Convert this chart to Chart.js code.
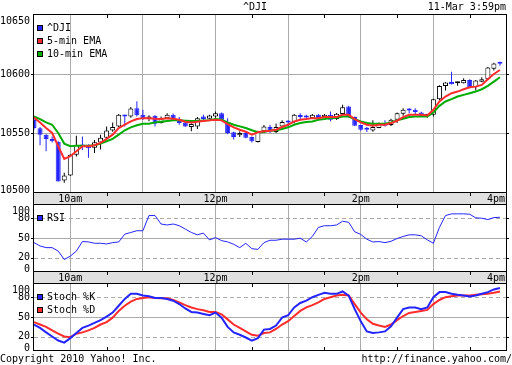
<!DOCTYPE html>
<html>
<head>
<meta charset="utf-8">
<script src="https://cdn.jsdelivr.net/npm/chart.js@4/dist/chart.umd.min.js"></script>
<style>
  html, body { margin: 0; padding: 0; background: #fff; }
  #wrap { position: relative; width: 512px; height: 365px; overflow: hidden; }
  #wrap canvas { position: absolute; left: 0; top: 0; }
  .txt { position: absolute; font: 10px "DejaVu Sans Mono", monospace; line-height: 10px; color: #000; white-space: pre; }
</style>
</head>
<body>
<div id="wrap">
  <canvas id="priceChart" width="512" height="365"></canvas>
  <canvas id="rsiChart" width="512" height="365"></canvas>
  <canvas id="stochChart" width="512" height="365"></canvas>
  <div class="txt" style="left:243px; top:2px;">^DJI</div>
  <div class="txt" style="right:6px; top:2px;">11-Mar 3:59pm</div>
  <div class="txt" style="left:0; top:354px;">Copyright 2010 Yahoo! Inc.</div>
  <div class="txt" style="right:0; top:354px;">http://finance.yahoo.com/</div>
</div>
<script>
// ^DJI intraday, 5-min candles, 11-Mar-2010

const times = [
    '9:30', '9:35', '9:40', '9:45', '9:50', '9:55',
    '10:00', '10:05', '10:10', '10:15', '10:20', '10:25', '10:30', '10:35', '10:40', '10:45', '10:50', '10:55',
    '11:00', '11:05', '11:10', '11:15', '11:20', '11:25', '11:30', '11:35', '11:40', '11:45', '11:50', '11:55',
    '12:00', '12:05', '12:10', '12:15', '12:20', '12:25', '12:30', '12:35', '12:40', '12:45', '12:50', '12:55',
    '13:00', '13:05', '13:10', '13:15', '13:20', '13:25', '13:30', '13:35', '13:40', '13:45', '13:50', '13:55',
    '14:00', '14:05', '14:10', '14:15', '14:20', '14:25', '14:30', '14:35', '14:40', '14:45', '14:50', '14:55',
    '15:00', '15:05', '15:10', '15:15', '15:20', '15:25', '15:30', '15:35', '15:40', '15:45', '15:50', '15:55',
    '16:00'
];

const open = [
    10561, 10554, 10548.6, 10545, 10542.5, 10509.8, 10514, 10531.5, 10540, 10540,
    10537.4, 10542, 10546, 10552.2, 10555.6, 10565.4, 10564, 10571, 10565.4, 10562,
    10564.6, 10558.4, 10562.4, 10565.4, 10561.8, 10559, 10555, 10555.6, 10564, 10562,
    10564, 10566.8, 10559, 10550.6, 10548, 10550, 10546.6,
    10542.4, 10551.4, 10555, 10550.8, 10555.6, 10559.6, 10559.3, 10565, 10564, 10562.4,
    10565.4, 10563.5, 10565.4, 10561.8, 10566, 10572.5, 10563.5, 10556.7, 10554.2, 10552.2,
    10554.2, 10558.4, 10556.7, 10561.2, 10566.3, 10570.5, 10569.7, 10567.4, 10564.6, 10565.4,
    10578.6, 10589.9, 10593.3, 10592.1, 10592.1, 10594.9, 10588.8, 10593.5, 10595.5, 10604.5,
    10609.3
];
const high = [
    10562, 10555, 10549, 10547, 10543, 10516.3, 10532, 10547.7, 10547, 10540.5,
    10544, 10548.6, 10555.6, 10559, 10566, 10565.5, 10572, 10577, 10569.7, 10565,
    10565, 10564, 10566.8, 10566.5, 10563.5, 10560, 10558, 10563.5, 10565.4, 10565.4,
    10568.2, 10567.4, 10562.6, 10551, 10551.4, 10551, 10547,
    10552, 10556.7, 10557, 10558, 10560.7, 10560.7, 10566, 10566.8, 10565.4, 10566,
    10566, 10566, 10568.2, 10567, 10573.9, 10573, 10564, 10557, 10555, 10560.7,
    10559, 10560.7, 10562, 10567.4, 10571, 10571, 10571, 10568, 10566, 10579,
    10590.5, 10593, 10602, 10593.5, 10596.3, 10595.5, 10595, 10597.2, 10606, 10609.5,
    10610.4
];
const low = [
    10553, 10539.6, 10534.5, 10542, 10509, 10507.9, 10513.5, 10530, 10535.6, 10529,
    10533, 10536, 10545, 10551, 10555, 10555.6, 10563, 10564, 10561, 10560,
    10555.6, 10558, 10562, 10561, 10557, 10555, 10551.4, 10553.4, 10561, 10562,
    10563, 10561, 10549, 10544.4, 10546.6, 10545.5, 10542,
    10542, 10550, 10550, 10550, 10554, 10555.6, 10558, 10560.7, 10561.2, 10562,
    10562, 10563, 10560, 10561, 10565, 10563, 10556, 10552, 10550.8, 10551,
    10554, 10555.6, 10556, 10558.4, 10564.6, 10566.8, 10565.4, 10563.5, 10563, 10564,
    10578, 10586, 10591, 10590, 10592, 10588, 10586, 10593, 10595, 10603,
    10607
];
const close = [
    10554.2, 10548.6, 10545, 10543, 10509, 10514, 10531.5, 10539.9, 10538.5, 10537,
    10542.1, 10546, 10552.2, 10555, 10565.4, 10564, 10570.8, 10565, 10562.4, 10564,
    10557.9, 10562.6, 10565.4, 10561.2, 10558.4, 10555.6, 10557.6, 10562.6, 10561.8, 10564.9,
    10566.8, 10561.2, 10550, 10546.6, 10550, 10546, 10543,
    10551.4, 10555.6, 10551.4, 10555, 10559.3, 10559, 10565.4, 10563.5, 10563.2, 10565.4,
    10562.4, 10565.4, 10561.2, 10566.3, 10571.9, 10563.5, 10556.2, 10552.8, 10552.8, 10555,
    10558.4, 10556.2, 10561.2, 10566.8, 10569.7, 10569, 10567.7, 10564, 10564.9, 10578.6,
    10589.9, 10592.7, 10591.3, 10592.4, 10594.9, 10588.8, 10594.4, 10595.5, 10605.6, 10609,
    10608.7
];

const ema5 = [
    10563.2, 10558.9, 10554.2, 10550.0, 10538.8, 10528.1, 10530.3, 10534.6, 10538.8, 10538.8,
    10539.6, 10541.6, 10545.0, 10548.6, 10554.2, 10557.0, 10559.8, 10561.8, 10562.6, 10562.6,
    10562.1, 10561.8, 10562.4, 10562.1, 10561.2, 10559.6, 10559.0, 10559.6, 10560.1, 10560.7,
    10561.2, 10560.7, 10557.6, 10554.8, 10552.8, 10551.1, 10548.6,
    10550.6, 10551.4, 10552.0, 10552.8, 10555.1, 10557.0, 10559.8, 10561.2, 10561.8, 10562.6,
    10562.6, 10563.5, 10563.5, 10563.5, 10565.4, 10565.4, 10561.8, 10559.0, 10557.0, 10556.2,
    10557.0, 10557.0, 10558.4, 10560.4, 10563.5, 10565.4, 10565.4, 10565.4, 10564.9, 10569.7,
    10576.7, 10580.9, 10583.7, 10585.1, 10587.1, 10588.8, 10589.3, 10590.7, 10595.5, 10600.0,
    10603.4
];
const ema10 = [
    10564.0, 10561.8, 10559.0, 10557.0, 10550.0, 10541.0, 10538.8, 10539.3, 10539.3, 10539.3,
    10539.6, 10541.0, 10543.0, 10545.0, 10548.6, 10552.3, 10554.8, 10556.5, 10557.9, 10557.9,
    10559.0, 10559.6, 10560.1, 10560.7, 10560.7, 10560.4, 10560.1, 10560.1, 10560.7, 10560.9,
    10561.8, 10561.2, 10559.0, 10557.0, 10555.6, 10554.2, 10552.3,
    10550.6, 10550.8, 10552.0, 10552.3, 10553.4, 10554.8, 10557.0, 10558.4, 10559.3, 10559.8,
    10561.2, 10561.8, 10562.6, 10562.9, 10564.0, 10564.0, 10561.8, 10559.8, 10558.4, 10557.9,
    10557.9, 10557.9, 10559.0, 10560.7, 10562.1, 10563.5, 10564.0, 10564.0, 10564.0, 10567.4,
    10573.0, 10576.7, 10578.7, 10580.9, 10582.3, 10583.7, 10585.1, 10587.1, 10589.9, 10593.5,
    10597.2
];

const rsi = [
    43, 37.9, 35.4, 35.4, 30.2, 17.4, 22.5, 30.2, 44.6, 44.1,
    42, 42, 41, 43, 44, 55.8, 58.4, 61, 61, 84,
    84, 71.2, 69.7, 71.2, 68.7, 63.5, 58.4, 54.8, 57.4, 47.1,
    50.7, 46, 44.1, 40.5, 35.4, 42, 33.8,
    32.8, 43, 46.6, 46.6, 48.2, 48.2, 48.2, 49.7, 44, 52.3,
    66.1, 68.6, 68.6, 69.7, 75.4, 73.8, 59.4, 55.4, 48.2, 44,
    44.6, 43, 45, 49.2, 52.3, 54.8, 54.8, 53.3, 47.1, 42,
    66.1, 84, 86.6, 86.6, 86.6, 86, 80.5, 80, 77.9, 80.9,
    81.4
];
const stochK = [
    38.6, 33.5, 26.7, 20.5, 14.3, 11.2, 18, 25.7, 33.5, 37,
    41.2, 45.3, 50.5, 56.7, 67, 77.4, 85.1, 85.1, 82.5, 81.5,
    78.9, 78.9, 77.4, 74.7, 69.6, 62.9, 57.7, 56.7, 54.6, 52.6,
    56.7, 49, 35, 26.7, 23.1, 18.9, 14.3,
    18, 30.9, 31.9, 37, 49, 52.6, 64.5, 71.2, 74.7, 80,
    83.6, 86.7, 85.1, 85.1, 88.7, 82.5, 61.9, 43.7, 28.2, 25.7,
    26.7, 28.2, 36, 49, 61.9, 64.5, 64.5, 61.9, 64.5, 80,
    87.7, 87.7, 85.1, 83.6, 82.5, 80.9, 82.5, 85.1, 87.7, 91.8,
    93.9
];
const stochD = [
    42.2, 38.6, 35, 29.8, 24.7, 20.5, 19.5, 24.7, 26.7, 29.8,
    33.5, 38.6, 42.2, 49, 59.2, 67, 73.2, 77.4, 78.9, 80,
    78.9, 78.4, 78.4, 75.8, 72.2, 68, 64.5, 61.9, 60.3, 57.7,
    57.7, 54.1, 46.4, 38.6, 33.5, 28.2, 23.1,
    21.5, 25.7, 26.7, 31.9, 38.6, 43.7, 51.5, 59.2, 64.5, 68,
    72.2, 77.4, 80, 82.5, 83.6, 82.5, 69.6, 56.7, 46.4, 39.7,
    37, 35, 38.6, 45.3, 51.5, 56.1, 57.7, 59.2, 60.8, 69.6,
    75.8, 80, 81.5, 82.5, 82.5, 82.5, 83.6, 84.6, 85.1, 86.7,
    88.7
];

// axis labels
const priceTicks = [10500, 10550, 10600, 10650];
const oscTicks = [0, 20, 50, 80, 100];
const bandTimes = ['10:00', '12:00', '14:00', '16:00'];
const bandText = ['10am', '12pm', '2pm', '4pm'];

const BLUE = 'rgb(36,36,255)';
const RED = 'rgb(255,44,44)';
const GREEN = 'rgb(0,172,0)';
const GRID = 'rgb(170,170,170)';
const BAND = 'rgb(224,224,224)';
const FONT = '10px "DejaVu Sans Mono", monospace';

const isDown = close.map((c, i) => c < open[i]);

// borders, labels, dashed levels, time band and legend for each panel
const panelPlugin = {
    id: 'panel',
    beforeDatasetsDraw(chart, args, opts) {
        const { ctx, chartArea: a } = chart;
        const y = chart.scales.y;
        ctx.save();
        ctx.strokeStyle = GRID;
        ctx.lineWidth = 1;
        ctx.setLineDash([4, 3]);
        (opts.dashed || []).forEach(v => {
            const py = Math.round(y.getPixelForValue(v)) + 0.5;
            ctx.beginPath();
            ctx.moveTo(a.left, py);
            ctx.lineTo(a.right, py);
            ctx.stroke();
        });
        ctx.restore();
    },
    afterDraw(chart, args, opts) {
        const { ctx, chartArea: a } = chart;
        const x = chart.scales.x, y = chart.scales.y;
        const w = a.right - a.left;
        ctx.save();
        ctx.font = FONT;
        ctx.lineWidth = 1;
        ctx.strokeStyle = '#000';
        ctx.fillStyle = '#000';

        // time band under the panel
        if (opts.band) {
            ctx.fillStyle = BAND;
            ctx.fillRect(a.left, a.bottom, w, 12);
            ctx.strokeRect(a.left - 0.5, a.bottom + 0.5, w + 1, 12);
            ctx.fillStyle = '#000';
            ctx.textBaseline = 'middle';
            ctx.textAlign = 'center';
            bandTimes.forEach((t, k) => {
                const tw = ctx.measureText(bandText[k]).width;
                let px = x.getPixelForValue(times.indexOf(t));
                px = Math.min(px, a.right - 1 - tw / 2);
                ctx.fillText(bandText[k], px, a.bottom + 7);
            });
        }

        ctx.strokeRect(a.left - 0.5, a.top - 0.5, w + 1, a.bottom - a.top + 1);

        // half-hour ticks
        times.forEach((t, i) => {
            if (!t.endsWith(':30') || i === 0) return;
            const px = Math.round(x.getPixelForValue(i)) + 0.5;
            ctx.beginPath();
            ctx.moveTo(px, a.top);
            ctx.lineTo(px, a.top + 3);
            if (opts.band) {
                ctx.moveTo(px, a.bottom);
                ctx.lineTo(px, a.bottom + 4);
            } else {
                ctx.moveTo(px, a.bottom);
                ctx.lineTo(px, a.bottom - 3);
            }
            ctx.stroke();
        });

        // y labels
        ctx.textAlign = 'right';
        ctx.textBaseline = 'middle';
        opts.yTicks.forEach(v => {
            const py = y.getPixelForValue(v);
            const ly = Math.min(Math.max(py, a.top + 6), a.bottom - 2);
            ctx.fillText(String(v), a.left - 4, ly);
            if (py > a.top + 1 && py < a.bottom - 1) {
                const ry = Math.round(py) + 0.5;
                ctx.beginPath();
                ctx.moveTo(a.left - 3, ry);
                ctx.lineTo(a.left, ry);
                ctx.moveTo(a.right, ry);
                ctx.lineTo(a.right + 3, ry);
                ctx.stroke();
            }
        });

        // legend
        ctx.textAlign = 'left';
        opts.legend.forEach((item, k) => {
            const cy = a.top + 13 + 13 * k;
            ctx.fillStyle = item[1];
            ctx.fillRect(a.left + 3, cy - 3, 6, 6);
            ctx.strokeRect(a.left + 3.5, cy - 2.5, 5, 5);
            ctx.fillStyle = '#000';
            ctx.fillText(item[0], a.left + 13, cy);
        });
        ctx.restore();
    }
};

function panelScales(yMin, yMax, gridVals) {
    return {
        x: {
            type: 'category',
            offset: false,
            afterFit: s => { s.height = 0; },
            afterBuildTicks: s => { s.ticks = s.ticks.filter(t => times[t.value].endsWith(':00')); },
            ticks: { display: false, autoSkip: false },
            grid: { color: GRID, drawTicks: false, offset: false },
            border: { display: false }
        },
        y: {
            min: yMin,
            max: yMax,
            afterFit: s => { s.width = 34; },
            afterBuildTicks: s => { s.ticks = gridVals.map(v => ({ value: v })); },
            ticks: { display: false },
            grid: { color: GRID, drawTicks: false },
            border: { display: false }
        }
    };
}

document.addEventListener('DOMContentLoaded', function() {
    // Price panel with candles and EMAs
    new Chart(document.getElementById('priceChart'), {
        type: 'bar',
        data: {
            labels: times,
            datasets: [{
                type: 'line',
                data: ema5,
                borderColor: RED,
                borderWidth: 2,
                pointRadius: 0,
                order: 0
            }, {
                type: 'line',
                data: ema10,
                borderColor: GREEN,
                borderWidth: 2,
                pointRadius: 0,
                order: 1
            }, {
                type: 'bar',
                data: open.map((o, i) => [o, close[i]]),
                backgroundColor: isDown.map(d => d ? BLUE : '#fff'),
                borderColor: isDown.map(d => d ? BLUE : '#000'),
                borderWidth: 1,
                borderSkipped: false,
                barThickness: 5,
                minBarLength: 2,
                inflateAmount: 0,
                grouped: false,
                order: 2
            }, {
                type: 'bar',
                data: low.map((l, i) => [l, high[i]]),
                backgroundColor: isDown.map(d => d ? BLUE : '#000'),
                barThickness: 1,
                inflateAmount: 0,
                grouped: false,
                order: 3
            }]
        },
        options: {
            responsive: false,
            devicePixelRatio: 1,
            animation: false,
            events: [],
            layout: { padding: { top: 15, bottom: 173, left: 0, right: 6 } },
            scales: panelScales(10500, 10650, [10550, 10600]),
            plugins: {
                legend: { display: false },
                tooltip: { enabled: false },
                panel: {
                    yTicks: priceTicks,
                    band: true,
                    legend: [['^DJI', BLUE], ['5-min EMA', RED], ['10-min EMA', GREEN]]
                }
            }
        },
        plugins: [panelPlugin]
    });

    // RSI panel
    new Chart(document.getElementById('rsiChart'), {
        type: 'line',
        data: {
            labels: times,
            datasets: [{
                data: rsi,
                borderColor: BLUE,
                borderWidth: 1,
                pointRadius: 0
            }]
        },
        options: {
            responsive: false,
            devicePixelRatio: 1,
            animation: false,
            events: [],
            layout: { padding: { top: 205, bottom: 94, left: 0, right: 6 } },
            scales: panelScales(0, 100, [50]),
            plugins: {
                legend: { display: false },
                tooltip: { enabled: false },
                panel: { yTicks: oscTicks, dashed: [20, 80], band: true, legend: [['RSI', BLUE]] }
            }
        },
        plugins: [panelPlugin]
    });

    // Stochastic panel
    new Chart(document.getElementById('stochChart'), {
        type: 'line',
        data: {
            labels: times,
            datasets: [{
                data: stochK,
                borderColor: BLUE,
                borderWidth: 2,
                pointRadius: 0,
                order: 0
            }, {
                data: stochD,
                borderColor: RED,
                borderWidth: 2,
                pointRadius: 0,
                order: 1
            }]
        },
        options: {
            responsive: false,
            devicePixelRatio: 1,
            animation: false,
            events: [],
            layout: { padding: { top: 284, bottom: 15, left: 0, right: 6 } },
            scales: panelScales(0, 100, [50]),
            plugins: {
                legend: { display: false },
                tooltip: { enabled: false },
                panel: { yTicks: oscTicks, dashed: [20, 80], band: false, legend: [['Stoch %K', BLUE], ['Stoch %D', RED]] }
            }
        },
        plugins: [panelPlugin]
    });
});
</script>
</body>
</html>
